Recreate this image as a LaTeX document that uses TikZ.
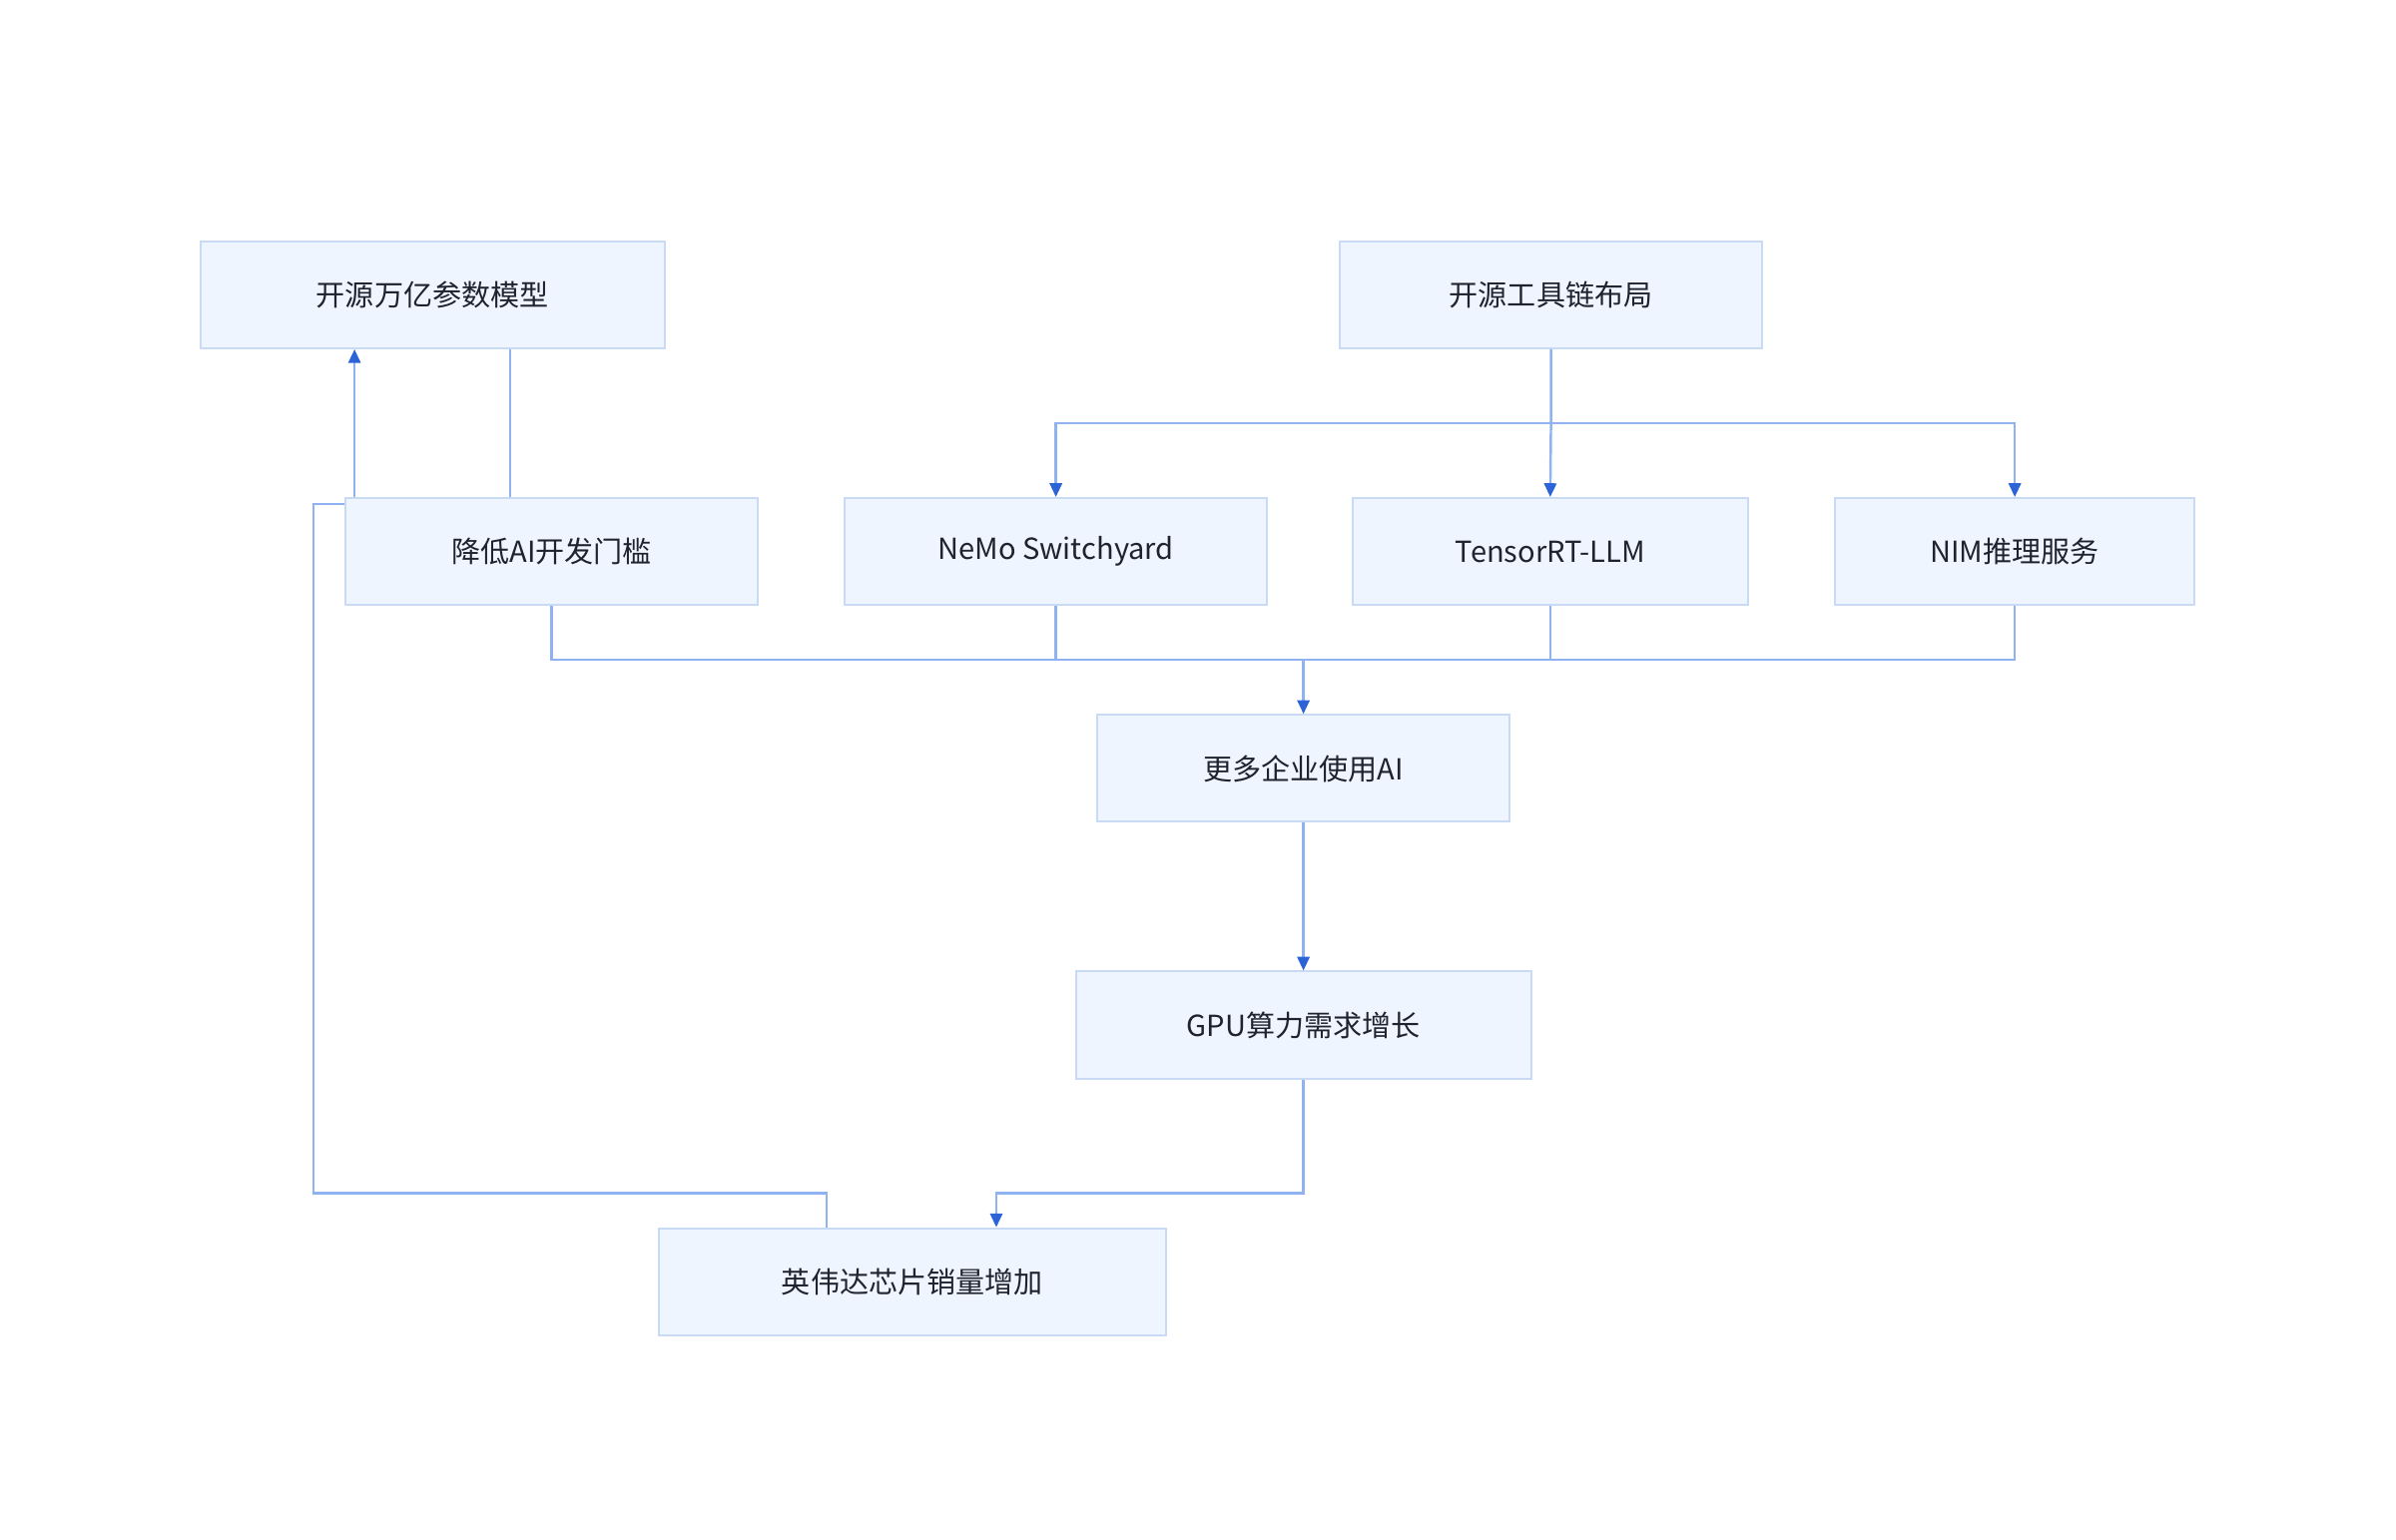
\documentclass[tikz,border=0pt]{standalone}
\usepackage{fontspec}
\setmainfont{Noto Sans CJK SC}
\usetikzlibrary{arrows.meta}
\definecolor{bfill}{HTML}{EFF5FE}
\definecolor{bdraw}{HTML}{C9DAF5}
\definecolor{ln}{HTML}{8FB2F0}
\definecolor{ah}{HTML}{2C64D8}
\definecolor{tx}{HTML}{1F2330}
\begin{document}
\begin{tikzpicture}[x=1pt,y=-1pt,
  box/.style={draw=bdraw,fill=bfill,line width=1.3pt,text=tx,font=\fontsize{19}{22}\selectfont,inner sep=0pt},
  con/.style={draw=ln,line width=1.6pt},
  arr/.style={con,-{Triangle[length=9pt,width=8pt,color=ah,fill=ah]}}]
\useasboundingbox (0,0) rectangle (1568,1008);
\newcommand{\bx}[6]{\node[box,minimum width={#4-#2},minimum height={#5-#3}] (#1) at ({(#2+#4)/2},{(#3+#5)/2}) {#6};}
% loop behind boxes
\coordinate (l1) at (541,781);
\coordinate (l2) at (205,781);
\coordinate (l3) at (205,330);
\coordinate (l4) at (232,330);
\bx{A}{131}{158}{435}{228}{开源万亿参数模型}
\bx{I}{431}{804}{763}{874}{英伟达芯片销量增加}
\draw[arr] (I.north -| l1) -- (l1) -- (l2) -- (l3) -- (l4) -- (A.south -| l4);
\bx{B}{877}{158}{1153}{228}{开源工具链布局}
\bx{C}{226}{326}{496}{396}{降低AI开发门槛}
\bx{D}{553}{326}{829}{396}{NeMo Switchyard}
\bx{E}{885}{326}{1144}{396}{TensorRT-LLM}
\bx{F}{1201}{326}{1436}{396}{NIM推理服务}
\bx{G}{718}{468}{988}{538}{更多企业使用AI}
\bx{H}{704}{636}{1002}{706}{GPU算力需求增长}
\coordinate (a1) at (334,0);
\draw[con] (A.south -| a1) -- (C.north -| a1);
\coordinate (b1) at (1015,277);
\draw[arr] (B.south) -- (b1) -- (E.north);
\draw[arr] (b1) -| (D.north);
\draw[arr] (b1) -| (F.north);
\coordinate (m) at (853,432);
\draw[con] (C.south) |- (m);
\draw[con] (D.south) |- (m);
\draw[con] (E.south) |- (m);
\draw[con] (F.south) |- (m);
\draw[arr] (m) -- (G.north);
\draw[arr] (G.south) -- (H.north);
\coordinate (h1) at (652,781);
\draw[arr] (H.south) |- (h1) -- (I.north -| h1);
\end{tikzpicture}
\end{document}
